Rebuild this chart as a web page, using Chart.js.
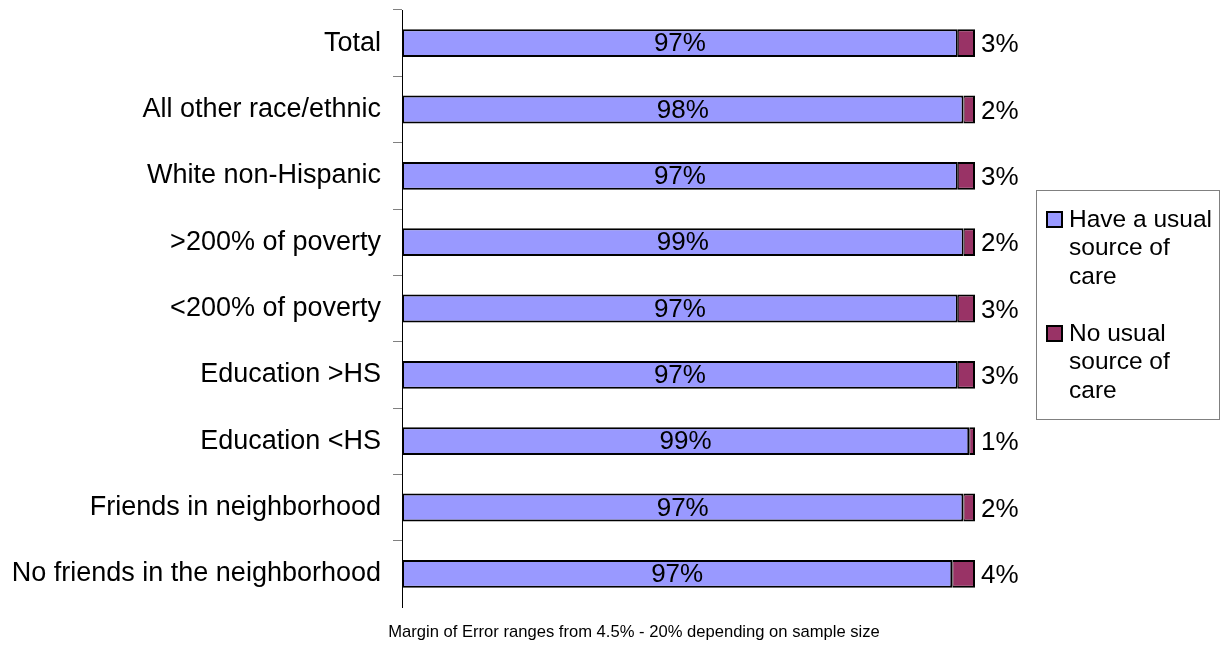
<!DOCTYPE html>
<html><head><meta charset="utf-8">
<script src="https://cdn.jsdelivr.net/npm/chart.js@4"></script>
<style>html,body{margin:0;padding:0;background:#fff;}#wrap{width:1222px;height:645px;position:relative;}</style>
</head><body><div id="wrap"><canvas id="c" width="1222" height="645"></canvas></div>
<script>
const categories = ['Total','All other race/ethnic','White non-Hispanic','>200% of poverty','<200% of poverty','Education >HS','Education <HS','Friends in neighborhood','No friends in the neighborhood'];
const haveCare = [97, 98, 97, 99, 97, 97, 99, 97, 97];
const noCare = [3, 2, 3, 2, 3, 3, 1, 2, 4];
const seriesNames = [['Have a usual','source of','care'], ['No usual','source of','care']];
const seriesColors = ['#9999FF', '#993366'];
const footnote = 'Margin of Error ranges from 4.5% - 20% depending on sample size';

const FONT = "'Liberation Sans', Arial, sans-serif";
const totals = haveCare.map((v, i) => v + noCare[i]);
const haveShare = haveCare.map((v, i) => v / totals[i] * 100);
const noShare = noCare.map((v, i) => v / totals[i] * 100);
const rawValues = [haveCare, noCare];

const labelPlugin = {
  id: 'valueLabels',
  afterDatasetsDraw(chart) {
    const ctx = chart.ctx;
    ctx.save();
    ctx.fillStyle = '#000';
    ctx.font = '26px ' + FONT;
    ctx.textBaseline = 'middle';
    chart.data.datasets.forEach((ds, di) => {
      const meta = chart.getDatasetMeta(di);
      meta.data.forEach((el, i) => {
        const txt = rawValues[di][i] + '%';
        if (di === 0) {
          ctx.textAlign = 'center';
          ctx.fillText(txt, (el.x + el.base) / 2, el.y + 1);
        } else {
          ctx.textAlign = 'left';
          ctx.fillText(txt, el.x + 6, el.y + 2);
        }
      });
    });
    ctx.restore();
  }
};

const extrasPlugin = {
  id: 'extras',
  afterDraw(chart) {
    const ctx = chart.ctx;
    ctx.save();
    ctx.strokeStyle = '#808080';
    ctx.lineWidth = 1;
    ctx.strokeRect(1036.5, 190.5, 183, 229);
    ctx.font = '24.5px ' + FONT;
    ctx.textBaseline = 'middle';
    ctx.textAlign = 'left';
    const lineH = 28.5;
    seriesNames.forEach((lines, si) => {
      const y0 = 219 + si * lineH * 4;
      ctx.fillStyle = seriesColors[si];
      ctx.fillRect(1046, y0 - 8, 17, 17);
      ctx.strokeStyle = '#000';
      ctx.lineWidth = 2;
      ctx.strokeRect(1047, y0 - 7, 15, 15);
      ctx.fillStyle = '#000';
      lines.forEach((t, li) => ctx.fillText(t, 1069, y0 + li * lineH + 1));
    });
    ctx.font = '16.6px ' + FONT;
    ctx.textAlign = 'center';
    ctx.fillStyle = '#000';
    ctx.fillText(footnote, 634, 632);
    ctx.restore();
  }
};

new Chart(document.getElementById('c'), {
  type: 'bar',
  data: {
    labels: categories,
    datasets: [
      { label: seriesNames[0].join(' '), data: haveShare, backgroundColor: seriesColors[0], borderColor: '#000',
        borderWidth: {top: 2, bottom: 2, left: 2, right: 2}, borderSkipped: false, barPercentage: 0.42, categoryPercentage: 1 },
      { label: seriesNames[1].join(' '), data: noShare, backgroundColor: seriesColors[1], borderColor: '#000',
        borderWidth: {top: 2, bottom: 2, left: 1, right: 2}, borderSkipped: false, barPercentage: 0.42, categoryPercentage: 1 }
    ]
  },
  options: {
    indexAxis: 'y',
    responsive: false,
    animation: false,
    devicePixelRatio: 1,
    layout: { padding: { left: 0, right: 247, top: 10, bottom: 38 } },
    plugins: { legend: { display: false }, tooltip: { enabled: false } },
    scales: {
      x: { stacked: true, min: 0, max: 100, display: false },
      y: {
        stacked: true,
        grid: { drawOnChartArea: false, drawTicks: true, tickLength: 9, offset: true,
          color: c => (c.tick ? '#808080' : 'rgba(0,0,0,0)'),
          tickColor: c => (c.tick ? '#808080' : 'rgba(0,0,0,0)'), lineWidth: 1 },
        border: { display: true, color: '#000', width: 1 },
        ticks: { color: '#000', font: { family: FONT, size: 27 }, padding: 12, autoSkip: false },
        afterFit: s => { s.width = 402; s.paddingTop = 0; s.paddingBottom = 0; }
      }
    }
  },
  plugins: [labelPlugin, extrasPlugin]
});
</script></body></html>
